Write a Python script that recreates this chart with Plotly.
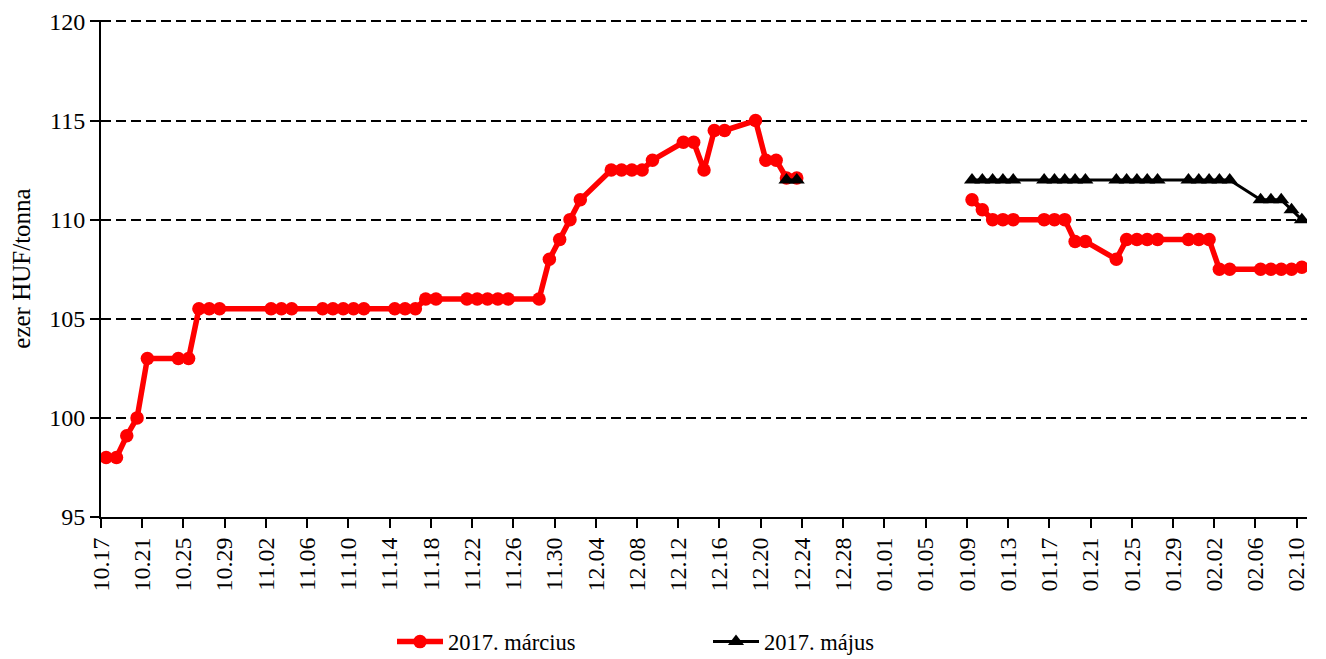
import pandas as pd
import plotly.graph_objects as go

# ---- data ----
marc_dates = [
    "2016-10-17", "2016-10-18", "2016-10-19", "2016-10-20", "2016-10-21",
    "2016-10-24", "2016-10-25", "2016-10-26", "2016-10-27", "2016-10-28",
    "2016-11-02", "2016-11-03", "2016-11-04",
    "2016-11-07", "2016-11-08", "2016-11-09", "2016-11-10", "2016-11-11",
    "2016-11-14", "2016-11-15", "2016-11-16", "2016-11-17", "2016-11-18",
    "2016-11-21", "2016-11-22", "2016-11-23", "2016-11-24", "2016-11-25",
    "2016-11-28", "2016-11-29", "2016-11-30", "2016-12-01", "2016-12-02",
    "2016-12-05", "2016-12-06", "2016-12-07", "2016-12-08", "2016-12-09",
    "2016-12-12", "2016-12-13", "2016-12-14", "2016-12-15", "2016-12-16",
    "2016-12-19", "2016-12-20", "2016-12-21", "2016-12-22", "2016-12-23",
    "2016-12-27",
    "2017-01-09", "2017-01-10", "2017-01-11", "2017-01-12", "2017-01-13",
    "2017-01-16", "2017-01-17", "2017-01-18", "2017-01-19", "2017-01-20",
    "2017-01-23", "2017-01-24", "2017-01-25", "2017-01-26", "2017-01-27",
    "2017-01-30", "2017-01-31", "2017-02-01", "2017-02-02", "2017-02-03",
    "2017-02-06", "2017-02-07", "2017-02-08", "2017-02-09", "2017-02-10",
]
marc_values = [
    98, 98, 99.1, 100, 103,
    103, 103, 105.5, 105.5, 105.5,
    105.5, 105.5, 105.5,
    105.5, 105.5, 105.5, 105.5, 105.5,
    105.5, 105.5, 105.5, 106, 106,
    106, 106, 106, 106, 106,
    106, 108, 109, 110, 111,
    112.5, 112.5, 112.5, 112.5, 113,
    113.9, 113.9, 112.5, 114.5, 114.5,
    115, 113, 113, 112.1, 112.1,
    None,
    111, 110.5, 110, 110, 110,
    110, 110, 110, 108.9, 108.9,
    108, 109, 109, 109, 109,
    109, 109, 109, 107.5, 107.5,
    107.5, 107.5, 107.5, 107.5, 107.6,
]

maj_dates = [
    "2016-12-22", "2016-12-23",
    "2016-12-27",
    "2017-01-09", "2017-01-10", "2017-01-11", "2017-01-12", "2017-01-13",
    "2017-01-16", "2017-01-17", "2017-01-18", "2017-01-19", "2017-01-20",
    "2017-01-23", "2017-01-24", "2017-01-25", "2017-01-26", "2017-01-27",
    "2017-01-30", "2017-01-31", "2017-02-01", "2017-02-02", "2017-02-03",
    "2017-02-06", "2017-02-07", "2017-02-08", "2017-02-09", "2017-02-10",
]
maj_values = [
    112, 112,
    None,
    112, 112, 112, 112, 112,
    112, 112, 112, 112, 112,
    112, 112, 112, 112, 112,
    112, 112, 112, 112, 112,
    111, 111, 111, 110.5, 110,
]

series_names = ["2017. március", "2017. május"]
y_title = "ezer HUF/tonna"
x_start, x_end = "2016-10-17", "2017-02-11"
y_ticks = [95, 100, 105, 110, 115, 120]

FONT = "Liberation Serif, Times New Roman, serif"

# points sit in the middle of their day (date axis "between tick marks")
def mid_day(d):
    return pd.to_datetime(d) + pd.Timedelta(hours=12)

fig = go.Figure()
fig.add_trace(go.Scatter(
    x=mid_day(marc_dates), y=marc_values, name=series_names[0],
    mode="lines+markers", connectgaps=False,
    line=dict(color="#FF0000", width=5.5),
    marker=dict(symbol="circle", size=13.5, color="#FF0000"),
))
fig.add_trace(go.Scatter(
    x=mid_day(maj_dates), y=maj_values, name=series_names[1],
    mode="lines+markers", connectgaps=False,
    line=dict(color="#000000", width=3),
    marker=dict(symbol="triangle-up", size=14, color="#000000"),
))
# helper trace to draw the inner half of the y-axis cross ticks
fig.add_trace(go.Scatter(x=[None], y=[None], yaxis="y2", showlegend=False,
                         hoverinfo="skip"))

fig.update_layout(
    width=1326, height=659,
    margin=dict(l=101, r=19, t=20, b=142, autoexpand=False),
    paper_bgcolor="white", plot_bgcolor="white",
    font=dict(family=FONT, size=24, color="black"),
    showlegend=True,
    legend=dict(orientation="h", x=0.2413, y=-0.2515, xanchor="left",
                yanchor="middle", font=dict(family=FONT, size=22.5),
                itemwidth=46, entrywidth=255, bgcolor="rgba(0,0,0,0)"),
    xaxis=dict(
        type="date", range=[x_start, x_end], automargin=False,
        tick0=x_start, dtick=4 * 86400000, tickformat="%m.%d",
        tickangle=-90, ticks="outside", ticklen=9, tickwidth=1.5,
        tickcolor="black", showline=True, linecolor="black", linewidth=2,
        showgrid=False, zeroline=False,
        tickfont=dict(family=FONT, size=24),
    ),
    yaxis=dict(
        range=[95, 120.07], tickvals=y_ticks, ticks="outside", ticklen=9,
        automargin=False,
        tickwidth=1.5, tickcolor="black", showline=True, linecolor="black",
        linewidth=2, showgrid=True, gridcolor="black", gridwidth=1.5,
        griddash="10px,5px", zeroline=False,
        title=dict(text=y_title, font=dict(family=FONT, size=25), standoff=11),
        tickfont=dict(family=FONT, size=24),
    ),
    yaxis2=dict(
        overlaying="y", anchor="x", side="left", range=[95, 120.07],
        tickvals=y_ticks, ticks="inside", ticklen=9, tickwidth=1.5,
        tickcolor="black", showticklabels=False, showgrid=False,
        showline=False, zeroline=False, automargin=False,
    ),
)

fig.write_html("out.html", config={"displayModeBar": False},
               post_script="document.body.style.margin='0';")
